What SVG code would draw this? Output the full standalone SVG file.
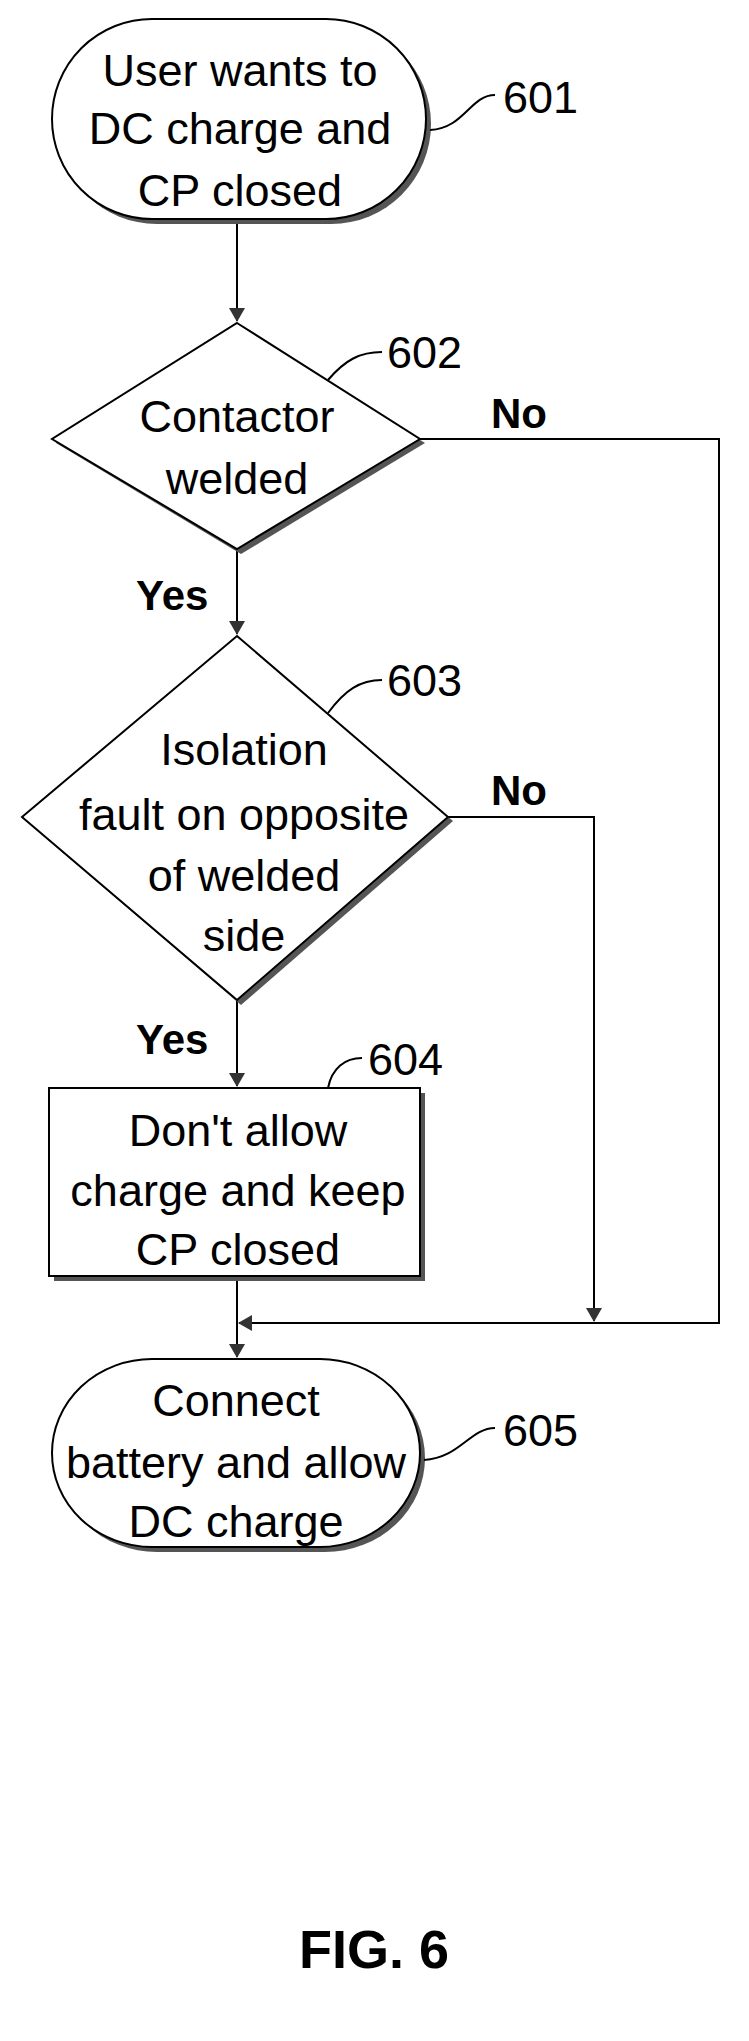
<svg xmlns="http://www.w3.org/2000/svg" width="749" height="2041" viewBox="0 0 749 2041">
<style>
.s{fill:#fff;stroke:#000;stroke-width:2}
.sh{fill:#555;stroke:none}
.t{font-family:"Liberation Sans",Arial,sans-serif;font-size:45px;text-anchor:middle;fill:#000}
.n{font-family:"Liberation Sans",Arial,sans-serif;font-size:45px;fill:#000}
.b{font-family:"Liberation Sans",Arial,sans-serif;font-size:42px;font-weight:bold;fill:#000}
.c{fill:none;stroke:#000;stroke-width:2}
</style>
<defs>
<marker id="a" markerWidth="14" markerHeight="16" refX="13" refY="8" orient="auto" markerUnits="userSpaceOnUse">
<path d="M0,0 L14,8 L0,16 Z" fill="#333"/>
</marker>
</defs>
<rect width="749" height="2041" fill="#fff"/>
<g id="connectors">
<path class="c" d="M237,219 V321" marker-end="url(#a)"/>
<path class="c" d="M237,549 V634" marker-end="url(#a)"/>
<path class="c" d="M237,1000 V1086" marker-end="url(#a)"/>
<path class="c" d="M237,1276 V1357" marker-end="url(#a)"/>
<path class="c" d="M420,439 H719 V1323 H239" marker-end="url(#a)"/>
<path class="c" d="M448,817 H594 V1321" marker-end="url(#a)"/>
<text class="b" x="491" y="428">No</text>
<text class="b" x="136" y="610">Yes</text>
<text class="b" x="491" y="805">No</text>
<text class="b" x="136" y="1054">Yes</text>
</g>
<g id="n601">
<rect class="sh" x="57" y="24" width="374" height="200" rx="100" ry="100"/>
<rect class="s" x="52" y="19" width="374" height="200" rx="100" ry="100"/>
<text class="t" x="240" y="86">User wants to</text>
<text class="t" x="240" y="144">DC charge and</text>
<text class="t" x="240" y="206">CP closed</text>
<path class="c" d="M430,130 C465,128 470,95 495,95"/>
<text class="n" x="503" y="113">601</text>
</g>
<g id="n602">
<polygon class="sh" points="241,327 425,443 241,554 56,443"/>
<polygon class="s" points="237,323 420,439 237,549 52,439"/>
<text class="t" x="237" y="432">Contactor</text>
<text class="t" x="237" y="494">welded</text>
<path class="c" d="M328,380 C345,360 360,352 382,352"/>
<text class="n" x="387" y="368">602</text>
</g>
<g id="n603">
<polygon class="sh" points="241,640 453,821 241,1005 26,821"/>
<polygon class="s" points="237,636 448,817 237,1000 22,817"/>
<text class="t" x="244" y="765">Isolation</text>
<text class="t" x="244" y="830">fault on opposite</text>
<text class="t" x="244" y="891">of welded</text>
<text class="t" x="244" y="951">side</text>
<path class="c" d="M328,713 C345,690 360,680 382,680"/>
<text class="n" x="387" y="696">603</text>
</g>
<g id="n604">
<rect class="sh" x="54" y="1093" width="371" height="188"/>
<rect class="s" x="49" y="1088" width="371" height="188"/>
<text class="t" x="238" y="1146">Don't allow</text>
<text class="t" x="238" y="1206">charge and keep</text>
<text class="t" x="238" y="1265">CP closed</text>
<path class="c" d="M328,1088 C332,1068 345,1058 362,1058"/>
<text class="n" x="368" y="1075">604</text>
</g>
<g id="n605">
<rect class="sh" x="57" y="1364" width="368" height="188" rx="100" ry="94"/>
<rect class="s" x="52" y="1359" width="368" height="188" rx="100" ry="94"/>
<text class="t" x="236" y="1416">Connect</text>
<text class="t" x="236" y="1478">battery and allow</text>
<text class="t" x="236" y="1537">DC charge</text>
<path class="c" d="M424,1460 C460,1458 470,1428 495,1428"/>
<text class="n" x="503" y="1446">605</text>
</g>
<text x="374" y="1968" font-family="Liberation Sans,Arial,sans-serif" font-size="54" font-weight="bold" text-anchor="middle">FIG. 6</text>
</svg>
